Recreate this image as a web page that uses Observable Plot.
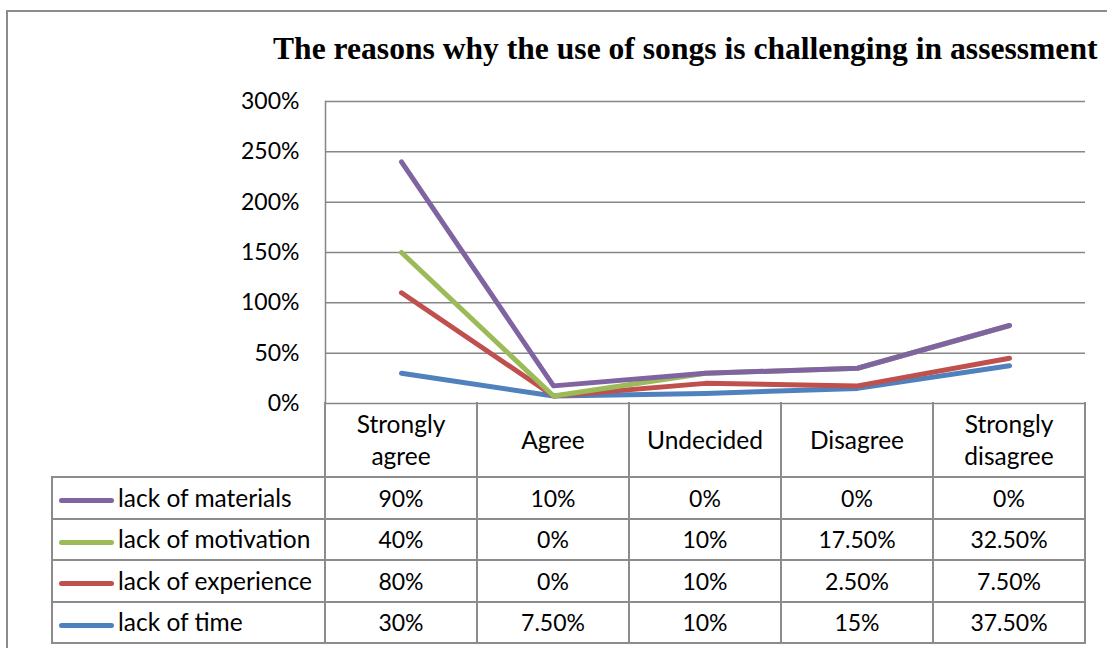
<!DOCTYPE html>
<html><head><meta charset="utf-8">
<script src="https://cdn.jsdelivr.net/npm/d3@7"></script>
<script src="https://cdn.jsdelivr.net/npm/@observablehq/plot@0.6"></script>
<style>
body{margin:0;background:#fff;}
#wrap{position:relative;width:1107px;height:648px;overflow:hidden;font-family:Lato,sans-serif;color:#000;}
#border{position:absolute;left:6px;top:10px;width:1300px;height:900px;border:2px solid #8c8c8c;box-sizing:border-box;}
#title{position:absolute;top:31px;left:273px;font:bold 31.6px "Liberation Serif",serif;white-space:nowrap;}
#chart{position:absolute;left:0;top:0;}
#tbl{position:absolute;border-collapse:collapse;table-layout:fixed;font-size:23px;}
#tbl td{border:2px solid #8c8c8c;text-align:center;padding:0;line-height:32px;}
#tbl td.leg{text-align:left;white-space:nowrap;font-size:24.5px;}
#tbl td.hd{font-size:24.5px;}
.sw{display:inline-block;width:55px;height:5px;border-radius:3px;vertical-align:middle;margin:0 4px 0 6px;}
</style></head>
<body><div id="wrap"><div id="border"></div><div id="title"></div><div id="chart"></div><table id="tbl"></table></div>
<script>
const title = "The reasons why the use of songs is challenging in assessment";
const categories = ["Strongly agree","Agree","Undecided","Disagree","Strongly disagree"];
const categoryLines = [["Strongly","agree"],["Agree"],["Undecided"],["Disagree"],["Strongly","disagree"]];
const seriesNames = ["lack of materials","lack of motivation","lack of experience","lack of time"];
const seriesColors = ["#8064A2","#9BBB59","#C0504D","#4F81BD"];
const materials = [90, 10, 0, 0, 0];
const motivation = [40, 0, 10, 17.5, 32.5];
const experience = [80, 0, 10, 2.5, 7.5];
const time = [30, 7.5, 10, 15, 37.5];
const yTicks = [0, 50, 100, 150, 200, 250, 300];

const seriesValues = [materials, motivation, experience, time];
const stackOrder = ["lack of time","lack of experience","lack of motivation","lack of materials"];
const long = [];
for (const name of stackOrder) {
  const vals = seriesValues[seriesNames.indexOf(name)];
  categories.forEach((c, i) => long.push({category: c, series: name, value: vals[i]}));
}
const fmt = v => Number.isInteger(v) ? v + "%" : v.toFixed(2) + "%";

document.getElementById("title").textContent = title;

const chart = Plot.plot({
  width: 1107, height: 410,
  marginTop: 101, marginBottom: 7, marginLeft: 325, marginRight: 22,
  style: {fontFamily: "Lato, sans-serif", fontSize: "23px", color: "#000", background: "transparent", overflow: "visible"},
  x: {domain: categories, type: "band", padding: 0, axis: null},
  y: {domain: [0, 300]},
  color: {domain: seriesNames, range: seriesColors},
  marks: [
    Plot.gridY(yTicks, {stroke: "#868686", strokeOpacity: 1, strokeWidth: 1.5}),
    Plot.axisY(yTicks, {tickSize: 0, tickPadding: 26, tickFormat: d => d + "%", label: null, fontSize: 23}),
    Plot.frame({anchor: "left", stroke: "#868686", strokeWidth: 1.5}),
    Plot.lineY(long, Plot.stackY2({x: "category", y: "value", z: "series", stroke: "series",
      strokeWidth: 5, strokeLinecap: "round", strokeLinejoin: "round"}))
  ]
});
document.getElementById("chart").appendChild(chart);

// data table aligned with the chart's x scale
const xs = chart.scale("x");
const bw = xs.bandwidth;
const x0 = xs.range[0];
const legLeft = 52;
const tbl = document.getElementById("tbl");
tbl.style.left = (legLeft - 1) + "px";
tbl.style.top = "402px";
tbl.style.width = (x0 - legLeft + bw * categories.length + 2) + "px";
let html = `<colgroup><col style="width:${x0 - legLeft}px">` + categories.map(() => `<col style="width:${bw}px">`).join("") + `</colgroup>`;
html += `<tr style="height:75px"><td style="border:none;border-right:2px solid #8c8c8c;border-bottom:2px solid #8c8c8c"></td>` +
  categoryLines.map(l => `<td class="hd" style="border-top:none;padding-top:2px">${l.join("<br>")}</td>`).join("") + `</tr>`;
seriesNames.forEach((name, si) => {
  html += `<tr style="height:41.5px"><td class="leg"><span class="sw" style="background:${seriesColors[si]}"></span>${name}</td>` +
    seriesValues[si].map(v => `<td>${fmt(v)}</td>`).join("") + `</tr>`;
});
tbl.innerHTML = html;
</script></body></html>
